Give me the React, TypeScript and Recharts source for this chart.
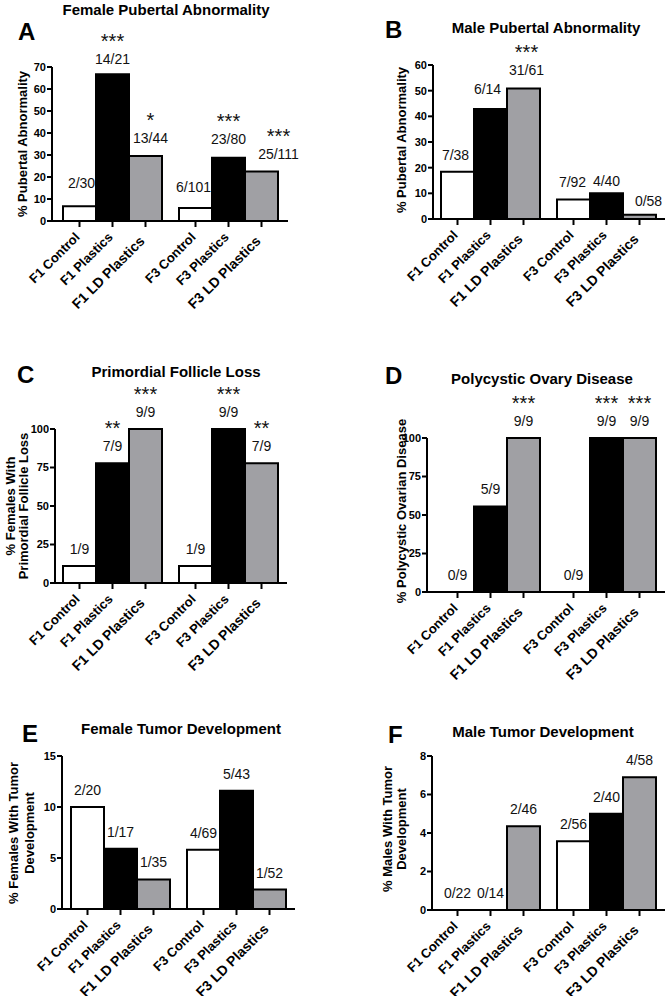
import React from 'react';
import { BarChart, Bar, XAxis, YAxis, LabelList, Cell } from 'recharts';

const FONT = '"Liberation Sans", Arial, Helvetica, sans-serif';

const categories = ['F1 Control', 'F1 Plastics', 'F1 LD Plastics', 'F3 Control', 'F3 Plastics', 'F3 LD Plastics'];
const groups = ['F1', 'F3'];
const seriesKeys = ['control', 'plastics', 'ld'];
const seriesFills = ['#ffffff', '#000000', '#a0a0a4'];

const femalePubertalValues = [6.7, 66.7, 29.5, 5.9, 28.8, 22.5];
const femalePubertalCounts = ['2/30', '14/21', '13/44', '6/101', '23/80', '25/111'];
const femalePubertalStars = ['', '***', '*', '', '***', '***'];
const femalePubertalTicks = [0, 10, 20, 30, 40, 50, 60, 70];

const malePubertalValues = [18.4, 42.9, 50.8, 7.6, 10.0, 1.7];
const malePubertalCounts = ['7/38', '6/14', '31/61', '7/92', '4/40', '0/58'];
const malePubertalStars = ['', '', '***', '', '', ''];
const malePubertalTicks = [0, 10, 20, 30, 40, 50, 60];

const follicleValues = [11.1, 77.8, 100, 11.1, 100, 77.8];
const follicleCounts = ['1/9', '7/9', '9/9', '1/9', '9/9', '7/9'];
const follicleStars = ['', '**', '***', '', '***', '**'];
const follicleTicks = [0, 25, 50, 75, 100];

const ovaryValues = [0, 55.6, 100, 0, 100, 100];
const ovaryCounts = ['0/9', '5/9', '9/9', '0/9', '9/9', '9/9'];
const ovaryStars = ['', '', '***', '', '***', '***'];
const ovaryTicks = [0, 25, 50, 75, 100];

const femaleTumorValues = [10.0, 5.9, 2.9, 5.8, 11.6, 1.9];
const femaleTumorCounts = ['2/20', '1/17', '1/35', '4/69', '5/43', '1/52'];
const femaleTumorStars = ['', '', '', '', '', ''];
const femaleTumorTicks = [0, 5, 10, 15];

const maleTumorValues = [0, 0, 4.35, 3.57, 5.0, 6.9];
const maleTumorCounts = ['0/22', '0/14', '2/46', '2/56', '2/40', '4/58'];
const maleTumorStars = ['', '', '', '', '', ''];
const maleTumorTicks = [0, 2, 4, 6, 8];

type Geo = { axisX: number; top: number; bottom: number; right: number; padLeft: number; padRight: number };

type PanelDef = {
  letter: string;
  title: string;
  yLabel: string[];
  values: number[];
  counts: string[];
  stars: string[];
  ticks: number[];
  geo: Geo;
  titleX: number;
  titleY: number;
  letterX: number;
  letterY: number;
  yLabelX: number[];
  yLabelY: number;
  nudgeX?: number[];
  nudgeY?: number[];
};

const panels: PanelDef[] = [
  {
    letter: 'A', title: 'Female Pubertal Abnormality', yLabel: ['% Pubertal Abnormality'],
    values: femalePubertalValues, counts: femalePubertalCounts, stars: femalePubertalStars, ticks: femalePubertalTicks,
    geo: { axisX: 52, top: 67, bottom: 221, right: 288, padLeft: 3, padRight: 1 },
    titleX: 166, titleY: 15, letterX: 18, letterY: 40, yLabelX: [27], yLabelY: 144,
    nudgeX: [2, 0, 5, -2, 0, 17], nudgeY: [-6, 2, -1, -4, -2, -1],
  },
  {
    letter: 'B', title: 'Male Pubertal Abnormality', yLabel: ['% Pubertal Abnormality'],
    values: malePubertalValues, counts: malePubertalCounts, stars: malePubertalStars, ticks: malePubertalTicks,
    geo: { axisX: 433, top: 65, bottom: 219, right: 665, padLeft: 0, padRight: 0 },
    titleX: 546, titleY: 33, letterX: 385, letterY: 38, yLabelX: [406], yLabelY: 140,
    nudgeX: [-2, -3, 3, -1, 0, 9], nudgeY: [0, -3, -2, 0, 5, 3],
  },
  {
    letter: 'C', title: 'Primordial Follicle Loss', yLabel: ['% Females With', 'Primordial Follicle Loss'],
    values: follicleValues, counts: follicleCounts, stars: follicleStars, ticks: follicleTicks,
    geo: { axisX: 55, top: 429, bottom: 583, right: 287, padLeft: 0, padRight: 0 },
    titleX: 176, titleY: 377, letterX: 17, letterY: 383, yLabelX: [15, 28], yLabelY: 506,
  },
  {
    letter: 'D', title: 'Polycystic Ovary Disease', yLabel: ['% Polycystic Ovarian Disease'],
    values: ovaryValues, counts: ovaryCounts, stars: ovaryStars, ticks: ovaryTicks,
    geo: { axisX: 427, top: 438, bottom: 592, right: 665, padLeft: 6, padRight: 0 },
    titleX: 542, titleY: 384, letterX: 385, letterY: 384, yLabelX: [406], yLabelY: 511,
  },
  {
    letter: 'E', title: 'Female Tumor Development', yLabel: ['% Females With Tumor', 'Development'],
    values: femaleTumorValues, counts: femaleTumorCounts, stars: femaleTumorStars, ticks: femaleTumorTicks,
    geo: { axisX: 62, top: 756, bottom: 909, right: 295, padLeft: 1, padRight: 0 },
    titleX: 181, titleY: 734, letterX: 22, letterY: 742, yLabelX: [18, 34], yLabelY: 833,
  },
  {
    letter: 'F', title: 'Male Tumor Development', yLabel: ['% Males With Tumor', 'Development'],
    values: maleTumorValues, counts: maleTumorCounts, stars: maleTumorStars, ticks: maleTumorTicks,
    geo: { axisX: 432, top: 756, bottom: 910, right: 665, padLeft: 1, padRight: 0 },
    titleX: 543, titleY: 737, letterX: 388, letterY: 743, yLabelX: [392, 406], yLabelY: 829,
  },
];

const YW = 40;
const MT = 60;
const MB = 110;
const MR = 40;

function Panel({ p }: { p: PanelDef }) {
  const g = p.geo;
  const rows = groups.map((grp, gi) => ({
    group: grp,
    control: p.values[gi * 3],
    plastics: p.values[gi * 3 + 1],
    ld: p.values[gi * 3 + 2],
    controlIdx: gi * 3,
    plasticsIdx: gi * 3 + 1,
    ldIdx: gi * 3 + 2,
  }));
  const yMax = p.ticks[p.ticks.length - 1];
  const width = YW + (g.right - g.axisX) + MR;
  const height = MT + (g.bottom - g.top) + MB;

  const renderAnno = (props: any) => {
    const vb = props.viewBox || {};
    const x = Number(vb.x ?? props.x);
    const y = Number(vb.y ?? props.y);
    const w = Number(vb.width ?? props.width);
    const h = Number(vb.height ?? props.height ?? 0);
    const b = Number(props.value);
    const cx = x + w / 2;
    const zero = p.values[b] === 0;
    const base = Math.max(y, y + h);
    const top = zero ? base : Math.min(y, y + h);
    const name = categories[b];
    const isLD = name.indexOf('LD') >= 0;
    const dx = p.nudgeX ? p.nudgeX[b] : 0;
    const dy = p.nudgeY ? p.nudgeY[b] : 0;
    return (
      <g>
        <line x1={cx} x2={cx} y1={base + 1} y2={base + 6} stroke="#000" strokeWidth={2} />
        <text x={cx + dx} y={top - 12 + dy} textAnchor="middle" fontSize={14} fontFamily={FONT} fill="#111">
          {p.counts[b]}
        </text>
        {p.stars[b] ? (
          <text x={cx + dx} y={top - 28 + dy} textAnchor="middle" fontSize={20} fontFamily={FONT} fill="#111">
            {p.stars[b]}
          </text>
        ) : null}
        <text
          transform={`translate(${isLD ? cx : cx + 1},${isLD ? base + 21 : base + 17}) rotate(-45)`}
          textAnchor="end"
          fontSize={isLD ? 14 : 13}
          fontWeight="bold"
          fontFamily={FONT}
          fill="#000"
        >
          {name}
        </text>
      </g>
    );
  };

  return (
    <div style={{ position: 'absolute', left: g.axisX - YW, top: g.top - MT, width, height }}>
      <BarChart
        width={width}
        height={height}
        data={rows}
        margin={{ top: MT, right: MR, bottom: 0, left: 0 }}
        barCategoryGap={8}
        barGap={0}
        style={{ overflow: 'visible' }}
      >
        <XAxis
          dataKey="group"
          type="category"
          height={MB}
          tick={false}
          tickLine={false}
          axisLine={{ stroke: '#000', strokeWidth: 2 }}
          padding={{ left: g.padLeft, right: g.padRight }}
        />
        <YAxis
          type="number"
          width={YW}
          domain={[0, yMax]}
          ticks={p.ticks}
          interval={0}
          tickSize={5}
          tickMargin={1}
          axisLine={{ stroke: '#000', strokeWidth: 2 }}
          tickLine={{ stroke: '#000', strokeWidth: 2 }}
          tick={{ fontSize: 11, fontWeight: 'bold', fontFamily: FONT, fill: '#000' }}
        />
        {seriesKeys.map((k, si) => (
          <Bar
            key={k}
            dataKey={k}
            fill={seriesFills[si]}
            stroke="#000"
            strokeWidth={2}
            minPointSize={1}
            isAnimationActive={false}
          >
            {rows.map((r: any, ri) => (
              <Cell
                key={ri}
                fill={r[k] === 0 ? 'none' : seriesFills[si]}
                stroke={r[k] === 0 ? 'none' : '#000'}
              />
            ))}
            <LabelList dataKey={`${k}Idx`} content={renderAnno} />
          </Bar>
        ))}
      </BarChart>
    </div>
  );
}

export default function App() {
  return (
    <div style={{ position: 'absolute', left: 0, top: 0, width: 670, height: 996, background: '#fff', overflow: 'hidden' }}>
      {panels.map((p) => (
        <Panel key={p.letter} p={p} />
      ))}
      <svg width={670} height={996} style={{ position: 'absolute', left: 0, top: 0, pointerEvents: 'none' }}>
        {panels.map((p) => (
          <g key={p.letter} fontFamily={FONT} fill="#000">
            <text x={p.titleX} y={p.titleY} textAnchor="middle" fontSize={15} fontWeight="bold">
              {p.title}
            </text>
            <text x={p.letterX} y={p.letterY} fontSize={24} fontWeight="bold">
              {p.letter}
            </text>
            {p.yLabel.map((line, li) => (
              <text
                key={li}
                transform={`translate(${p.yLabelX[li]},${p.yLabelY}) rotate(-90)`}
                textAnchor="middle"
                fontSize={13}
                fontWeight="bold"
              >
                {line}
              </text>
            ))}
          </g>
        ))}
      </svg>
    </div>
  );
}
